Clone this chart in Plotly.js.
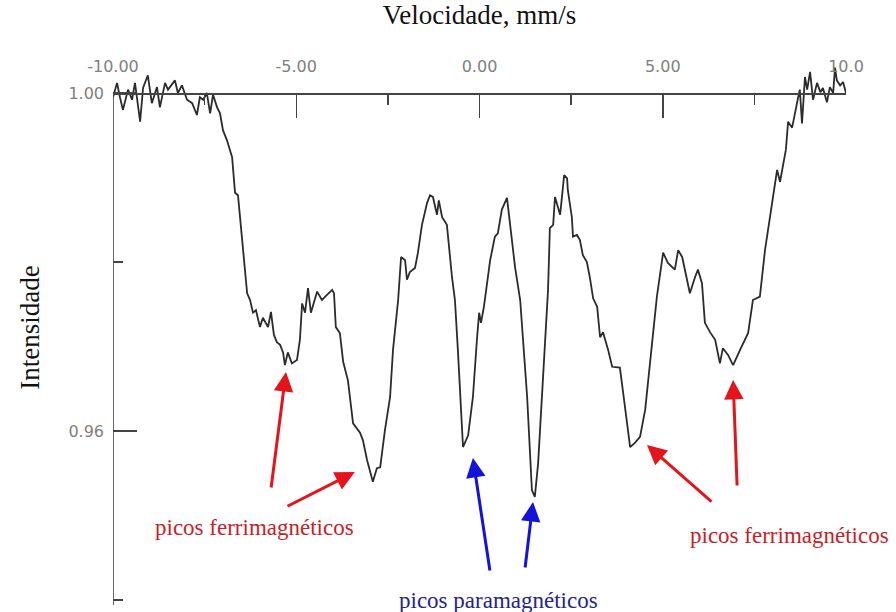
<!DOCTYPE html>
<html>
<head>
<meta charset="utf-8">
<script src="https://cdn.plot.ly/plotly-3.0.1.min.js"></script>
<style>html,body{margin:0;padding:0;background:#fff;}#chart{width:896px;height:612px;}</style>
</head>
<body>
<div id="chart"></div>
<script>
// Velocity (mm/s)
const velocidade = [
-10.00,-9.89,-9.81,-9.73,-9.59,-9.48,-9.40,-9.26,-9.18,-9.05,-8.94,-8.80,-8.72,-8.58,-8.50,-8.31,-8.23,-8.12,-7.98,-7.84,
-7.71,-7.63,-7.54,-7.44,-7.35,-7.27,-7.16,-7.08,-7.00,-6.89,-6.75,-6.67,-6.59,-6.48,-6.34,-6.26,-6.18,-6.10,-5.99,-5.91,
-5.77,-5.69,-5.61,-5.53,-5.44,-5.36,-5.31,-5.23,-5.12,-4.98,-4.90,-4.84,-4.76,-4.68,-4.60,-4.43,-4.30,-4.19,-4.02,-3.97,
-3.92,-3.81,-3.72,-3.59,-3.45,-3.26,-3.18,-3.07,-2.91,-2.80,-2.71,-2.58,-2.44,-2.36,-2.22,-2.14,-2.03,-1.98,-1.90,-1.76,
-1.68,-1.57,-1.43,-1.35,-1.27,-1.16,-1.11,-1.02,-0.89,-0.75,-0.67,-0.59,-0.53,-0.45,-0.31,-0.18,-0.07,-0.01,0.04,0.12,
0.29,0.42,0.50,0.61,0.75,0.83,0.97,1.11,1.21,1.30,1.43,1.51,1.60,1.71,1.79,1.87,1.92,2.01,2.06,2.11,
2.20,2.25,2.31,2.39,2.41,2.52,2.55,2.66,2.74,2.82,2.93,3.01,3.10,3.21,3.29,3.37,3.51,3.62,3.83,3.92,
4.02,4.11,4.24,4.38,4.52,4.65,4.73,4.84,5.01,5.14,5.33,5.42,5.53,5.74,5.88,5.96,6.07,6.15,6.29,6.43,
6.56,6.64,6.78,6.92,7.11,7.24,7.33,7.46,7.65,7.79,7.98,8.12,8.20,8.28,8.36,8.42,8.53,8.69,8.74,8.80,
8.88,8.94,9.02,9.10,9.21,9.30,9.37,9.48,9.56,9.65,9.70,9.75,9.84,9.92,10.00
];
// Relative intensity
const intensidade = [
0.9995,1.0012,0.9995,0.9980,1.0004,0.9992,1.0012,0.9966,1.0006,1.0021,0.9988,1.0007,0.9983,1.0012,1.0004,1.0015,1.0000,1.0009,0.9992,0.9988,
0.9974,0.9995,0.9992,1.0000,0.9976,0.9998,0.9983,0.9976,0.9956,0.9944,0.9924,0.9882,0.9879,0.9826,0.9763,0.9755,0.9740,0.9743,0.9723,0.9734,
0.9723,0.9741,0.9714,0.9705,0.9702,0.9693,0.9678,0.9693,0.9680,0.9684,0.9708,0.9751,0.9740,0.9769,0.9740,0.9765,0.9755,0.9760,0.9767,0.9763,
0.9723,0.9716,0.9682,0.9660,0.9609,0.9598,0.9589,0.9566,0.9540,0.9556,0.9557,0.9601,0.9640,0.9696,0.9755,0.9806,0.9802,0.9779,0.9788,0.9793,
0.9811,0.9844,0.9870,0.9879,0.9877,0.9856,0.9873,0.9853,0.9844,0.9782,0.9755,0.9696,0.9640,0.9581,0.9595,0.9640,0.9708,0.9740,0.9728,0.9747,
0.9802,0.9830,0.9834,0.9862,0.9876,0.9846,0.9794,0.9755,0.9696,0.9640,0.9530,0.9522,0.9562,0.9640,0.9696,0.9767,0.9840,0.9844,0.9877,0.9870,
0.9856,0.9877,0.9903,0.9899,0.9885,0.9853,0.9830,0.9832,0.9826,0.9808,0.9800,0.9782,0.9757,0.9747,0.9711,0.9717,0.9696,0.9676,0.9675,0.9645,
0.9609,0.9581,0.9586,0.9593,0.9625,0.9680,0.9720,0.9759,0.9811,0.9799,0.9791,0.9814,0.9806,0.9763,0.9782,0.9791,0.9775,0.9728,0.9717,0.9708,
0.9680,0.9698,0.9690,0.9678,0.9696,0.9708,0.9716,0.9755,0.9759,0.9814,0.9870,0.9909,0.9895,0.9912,0.9933,0.9966,0.9959,0.9994,1.0004,0.9964,
1.0019,1.0004,1.0025,0.9992,1.0012,1.0001,1.0006,0.9989,1.0007,1.0000,1.0030,1.0015,1.0009,1.0013,1.0000
];
const xTickVals = [-10, -5, 0, 5, 10];
const xTickText = ["-10.00", "-5.00", "0.00", "5.00", "10.0"];
const xMinorVals = [-7.5, -2.5, 2.5, 7.5];
const yTickVals = [0.96, 1.00];
const yTickText = ["0.96", "1.00"];
const yMinorVals = [0.94, 0.98];

// annotation labels
const labelFerri = "picos ferrimagnéticos";
const labelPara = "picos paramagnéticos";
// arrows: [headX, headY, tailX, tailY] in data units
const redArrows = [
  [-5.28, 0.96698, -5.69, 0.95314],
  [-3.40, 0.95515, -5.28, 0.95101],
  [4.57, 0.95834, 6.37, 0.95148],
  [6.92, 0.96604, 7.03, 0.95337]
];
const blueArrows = [
  [-0.18, 0.95681, 0.29, 0.94332],
  [1.46, 0.95160, 1.24, 0.94367]
];

const yMin = 0.93941, yMax = 1.00509;
const axisPos = (1.00 - yMin) / (yMax - yMin);

const trace = {
  x: velocidade, y: intensidade, type: 'scatter', mode: 'lines',
  line: {color: '#2b2b2b', width: 1.8}, hoverinfo: 'skip'
};

const tickFont = {family: 'DejaVu Sans', size: 16, color: '#808080'};
const annotations = [];
redArrows.forEach(a => annotations.push({
  x: a[0], y: a[1], xref: 'x', yref: 'y', ax: a[2], ay: a[3], axref: 'x', ayref: 'y',
  text: '', showarrow: true, arrowhead: 2, arrowsize: 1.3, arrowwidth: 3, arrowcolor: '#e3141b', standoff: 0
}));
blueArrows.forEach(a => annotations.push({
  x: a[0], y: a[1], xref: 'x', yref: 'y', ax: a[2], ay: a[3], axref: 'x', ayref: 'y',
  text: '', showarrow: true, arrowhead: 2, arrowsize: 1.3, arrowwidth: 3, arrowcolor: '#1414d8', standoff: 0
}));
const txtFont = (c) => ({family: 'Liberation Serif', size: 23, color: c});
annotations.push({x: -6.13, y: 0.94864, xref: 'x', yref: 'y', text: labelFerri, showarrow: false, font: txtFont('#c81e28')});
annotations.push({x: 8.47, y: 0.94758, xref: 'x', yref: 'y', text: labelFerri, showarrow: false, font: txtFont('#c81e28')});
annotations.push({x: 0.505, y: 0.94000, xref: 'x', yref: 'y', text: labelPara, showarrow: false, font: txtFont('#24248f')});

const layout = {
  width: 896, height: 612,
  margin: {l: 113, r: 50, t: 50, b: 7},
  paper_bgcolor: '#ffffff', plot_bgcolor: '#ffffff',
  showlegend: false,
  xaxis: {
    range: [-10, 10], side: 'top', anchor: 'free', position: axisPos,
    tickmode: 'array', tickvals: xTickVals, ticktext: xTickText,
    ticks: 'inside', ticklen: 23, tickwidth: 1.5, tickcolor: '#444',
    minor: {tickmode: 'array', tickvals: xMinorVals, ticks: 'inside', ticklen: 10, tickwidth: 1.5, tickcolor: '#444', showgrid: false},
    showline: true, linecolor: '#444', linewidth: 1.6,
    showgrid: false, zeroline: false, tickfont: tickFont, ticklabelstandoff: 15,
    title: {text: 'Velocidade, mm/s', font: {family: 'Liberation Serif', size: 27, color: '#111'}, standoff: 22}
  },
  yaxis: {
    range: [yMin, yMax],
    tickmode: 'array', tickvals: yTickVals, ticktext: yTickText,
    ticks: 'inside', ticklen: 24, tickwidth: 1.5, tickcolor: '#444',
    minor: {tickmode: 'array', tickvals: yMinorVals, ticks: 'inside', ticklen: 10, tickwidth: 1.5, tickcolor: '#444', showgrid: false},
    showline: false, showgrid: false, zeroline: false, tickfont: tickFont, ticklabelstandoff: 8,
    title: {text: 'Intensidade', font: {family: 'Liberation Serif', size: 27, color: '#111'}, standoff: 20}
  },
  shapes: [{type: 'line', xref: 'x', yref: 'y', x0: -10, x1: -10, y0: yMin, y1: 1.00, line: {color: '#444', width: 1.6}}],
  annotations: annotations
};

Plotly.newPlot('chart', [trace], layout, {staticPlot: true, displayModeBar: false});
</script>
</body>
</html>
